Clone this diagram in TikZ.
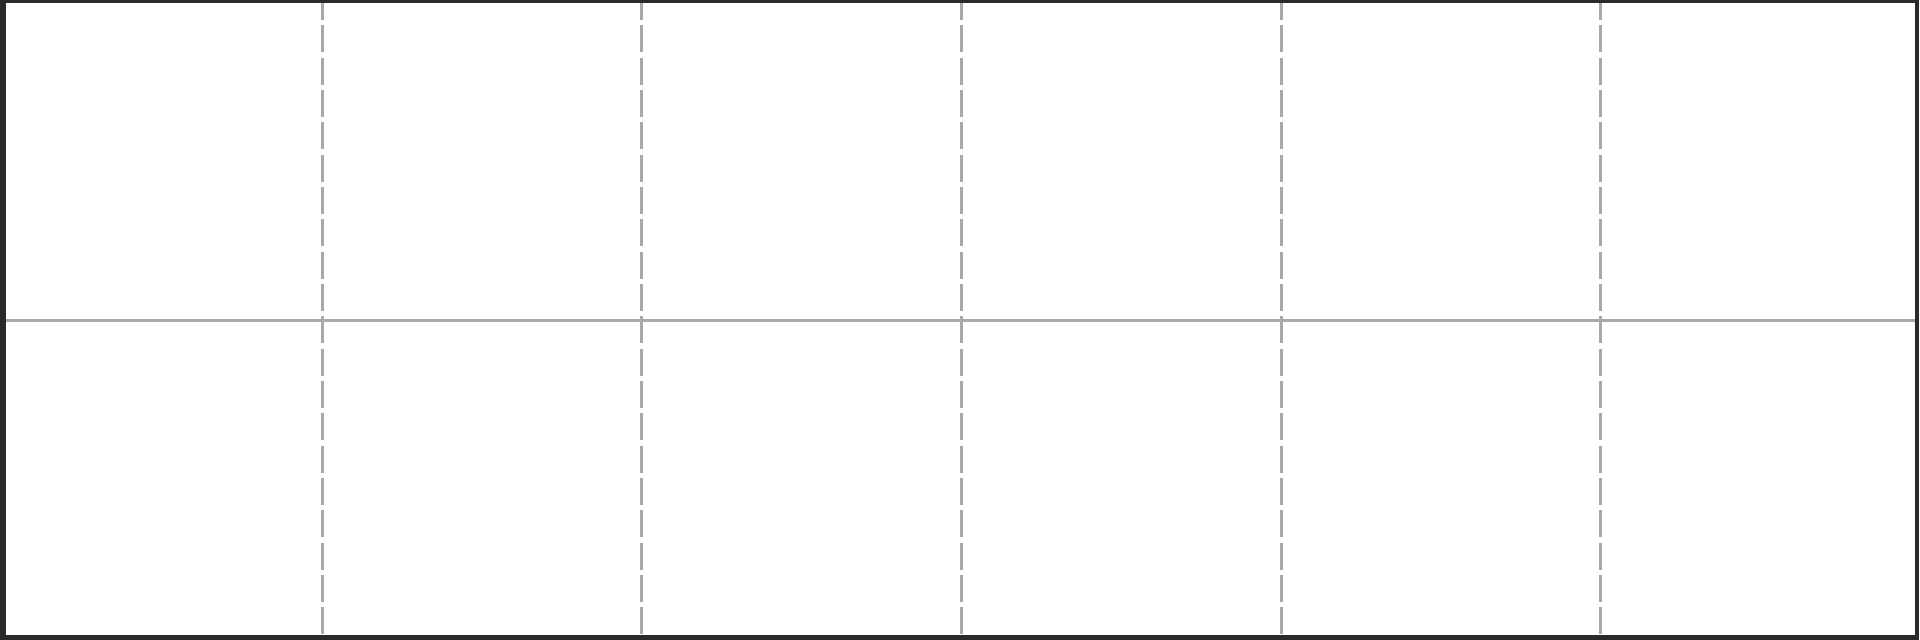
\documentclass[tikz,border=0pt]{standalone}
\definecolor{frame}{HTML}{2A2A2A}
\definecolor{grid}{HTML}{A9A9A9}
\tikzset{
  gridsolid/.style={draw=grid, line width=3pt},
  griddash/.style={draw=grid, line width=3pt, dash pattern=on 27pt off 5.33pt, dash phase=7pt},
}
\begin{document}
\begin{tikzpicture}[x=1pt, y=-1pt]
\useasboundingbox (0,0) rectangle (1920,640);
\fill[frame] (0,0) rectangle (1919,640);
\fill[white] (6,3.3) rectangle (1915,635);
\draw[gridsolid] (6,320) -- (1915,320);
\foreach \xx in {322,641,961,1281,1600}{
  \draw[griddash] (\xx,0) -- (\xx,635);
}
\fill[frame] (0,0) rectangle (1919,3.3);
\fill[frame] (0,635) rectangle (1919,640);
\end{tikzpicture}
\end{document}
